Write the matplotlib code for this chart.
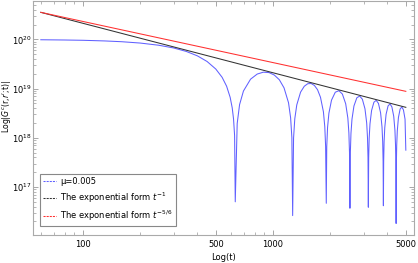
import numpy as np
import matplotlib.pyplot as plt
from matplotlib.ticker import FixedLocator, NullFormatter, LogLocator

# values (t, log10|G|)
mu_t = [60, 80, 100, 130, 160, 200, 250, 300, 350, 400, 450, 500, 540, 570, 595, 610, 620, 628, 633,
        648, 667, 699, 762, 826, 889, 953, 1016, 1080, 1143, 1207, 1238, 1257, 1269,
        1283, 1302, 1334, 1397, 1461, 1524, 1588, 1651, 1715, 1778, 1842, 1873, 1892, 1907,
        1918, 1937, 1969, 2032, 2127, 2223, 2318, 2413, 2477, 2508, 2527, 2540,
        2553, 2572, 2604, 2667, 2762, 2858, 2953, 3048, 3112, 3143, 3162, 3175,
        3188, 3207, 3239, 3302, 3397, 3493, 3588, 3683, 3747, 3778, 3797, 3810,
        3823, 3842, 3874, 3937, 4032, 4128, 4223, 4318, 4382, 4413, 4432, 4445,
        4458, 4477, 4509, 4572, 4667, 4763, 4858, 4953, 5000]
mu_log = [19.993, 19.988, 19.982, 19.969, 19.953, 19.926, 19.882, 19.826, 19.755, 19.666, 19.551, 19.398,
          19.229, 19.049, 18.824, 18.611, 18.383, 18.046, 16.70,
          18.291, 18.675, 18.951, 19.192, 19.296, 19.334, 19.326, 19.276, 19.180, 19.016, 18.713, 18.407,
          18.004, 16.42,
          17.995, 18.385, 18.670, 18.929, 19.048, 19.100, 19.104, 19.065, 18.979, 18.824, 18.530, 18.227,
          17.826, 16.67,
          17.820, 18.212, 18.501, 18.766, 18.927, 18.958, 18.890, 18.692, 18.401, 18.100, 17.700, 16.57,
          17.696, 18.089, 18.379, 18.648, 18.814, 18.849, 18.785, 18.590, 18.302, 18.002, 17.603, 16.59,
          17.599, 17.993, 18.285, 18.555, 18.724, 18.762, 18.700, 18.508, 18.221, 17.922, 17.523, 16.62,
          17.520, 17.915, 18.207, 18.479, 18.649, 18.689, 18.629, 18.439, 18.153, 17.855, 17.456, 16.26,
          17.454, 17.848, 18.141, 18.414, 18.586, 18.627, 18.568, 18.379, 17.75]

line_t = [60, 5000]
inv_log = [20.55, 18.62]     # t^-1
inv56_log = [20.55, 18.945]  # t^-5/6

x_major = [100, 500, 1000, 5000]

fig = plt.figure(figsize=(4.18, 2.63), dpi=100)
ax = fig.add_axes([0.079, 0.1065, 0.9114, 0.8915])

ax.plot(mu_t, 10**np.array(mu_log), color='#6060ff', lw=0.75, label='μ=0.005')
ax.plot(line_t, 10**np.array(inv_log), color='#333333', lw=0.75,
        label='The exponential form $t^{-1}$')
ax.plot(line_t, 10**np.array(inv56_log), color='#ff3030', lw=0.75,
        label='The exponential form $t^{-5/6}$')

ax.set_xscale('log')
ax.set_yscale('log')
ax.set_xlim(54.6, 5520)
ax.set_ylim(10**16.026, 10**20.79)

ax.xaxis.set_major_locator(FixedLocator(x_major))
ax.set_xticklabels([str(v) for v in x_major])
minors = [m * 10**e for e in (1, 2, 3) for m in range(1, 10)]
minors = [v for v in minors if v not in x_major]
ax.xaxis.set_minor_locator(FixedLocator(minors))
ax.xaxis.set_minor_formatter(NullFormatter())
ax.yaxis.set_major_locator(LogLocator(base=10, numticks=10))
ax.yaxis.set_minor_locator(LogLocator(base=10, subs=np.arange(2, 10), numticks=20))
ax.yaxis.set_minor_formatter(NullFormatter())

ax.tick_params(which='both', direction='in', top=True, right=True, colors='#999999',
               labelcolor='black', labelsize=6)
ax.tick_params(which='major', length=3.5, width=0.6)
ax.tick_params(which='minor', length=2, width=0.5)
ax.tick_params(axis='y', pad=1)
for s in ax.spines.values():
    s.set_color('#aaaaaa')
    s.set_linewidth(0.8)

ax.set_xlabel('Log(t)', fontsize=6, labelpad=3)
ax.set_ylabel("Log|$G^c$(r,$r'$;t)|", fontsize=5.6)
ax.yaxis.set_label_coords(-0.053, 0.55)

leg = ax.legend(loc='lower left', bbox_to_anchor=(0.018, 0.038), borderaxespad=0,
                fontsize=6, fancybox=False, handlelength=1.6, handletextpad=0.5,
                labelspacing=0.5, borderpad=0.35, framealpha=1)
leg.get_frame().set_edgecolor('#888888')
leg.get_frame().set_linewidth(0.8)
for h in leg.get_lines():
    h.set_linestyle((0, (2, 1)))

fig.savefig('out.png', dpi=100)
